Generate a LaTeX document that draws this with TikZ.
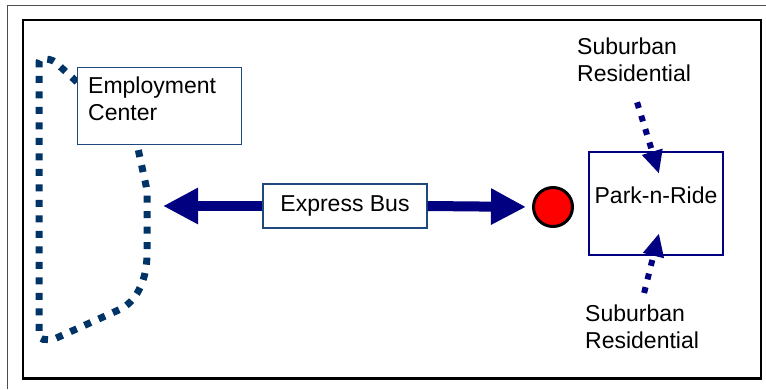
\documentclass[tikz,border=0pt]{standalone}
\usepackage{fontspec}
\setmainfont{Liberation Sans}
\usetikzlibrary{arrows.meta,calc}
\definecolor{routeblue}{HTML}{003366}
\definecolor{navy}{HTML}{000080}
\definecolor{boxedge}{HTML}{1F497D}
\begin{document}
\begin{tikzpicture}[x=1pt,y=-1pt,
  lbl/.style={font=\fontsize{23}{27}\selectfont, inner sep=0pt, align=left},
  textbox/.style={draw=boxedge, line width=1.2pt, fill=white,
    font=\fontsize{23}{27}\selectfont},
  routeline/.style={draw=routeblue, line width=7pt, line cap=butt,
    dash pattern=on 7pt off 8.5pt, rounded corners=4pt},
  busarrow/.style={draw=navy, line width=10pt,
    -{Triangle[length=35pt,width=34pt]}},
  feeder/.style={draw=navy, line width=6pt, dash pattern=on 6pt off 8pt,
    -{Triangle[length=23pt,width=20pt]}},
  stopdot/.style={circle, draw=black, fill=red, line width=3pt,
    minimum size=39pt, inner sep=0pt},
  pnrbox/.style={draw=navy, line width=2.5pt, fill=white,
    minimum width=134pt, minimum height=103pt, inner sep=0pt,
    text height=12pt, text depth=12pt, font=\fontsize{23}{27}\selectfont}]
\useasboundingbox (0,0) rectangle (766,389);
\fill[white] (0,0) rectangle (766,389);

% frames
\draw[line width=1pt, black!70] (766,5.5) -- (7.5,5.5) -- (7.5,389);
\draw[line width=2.5pt] (23,20) rectangle (761,378.3);

% service area outline around the employment center
\draw[routeline] (77,82) -- (53,60) -- (39,58) -- (39,339) -- (52,340)
  -- (123,308) .. controls (140,295) and (147,275) .. (147,250)
  -- (147,190) -- (137,144);

% employment center
\node[textbox, minimum width=164pt, minimum height=77pt, anchor=north west]
  (emp) at (77,67) {};
\node[lbl, anchor=north west] (emptext) at (88,77) {Employment\\Center};

% express bus line
\node[textbox, minimum width=164pt, minimum height=44pt] (bus) at (345,206)
  {Express Bus};
\node[stopdot] (stop) at (553,207) {};
\coordinate (buswest) at (163,206);
\draw[busarrow] (bus.west) -- (buswest);
\draw[busarrow, shorten >=6pt] (bus.east) -- (stop.west);

% park-n-ride and feeders
\node[pnrbox] (pnr) at (656,203.5) {Park-n-Ride};
\node[lbl, anchor=north west] (subtop) at (577,38) {Suburban\\Residential};
\node[lbl, anchor=north west] (subbot) at (585,305) {Suburban\\Residential};
\draw[feeder] ($(subtop.south)+(3,20)$) -- ($(pnr.north)+(3,23)$);
\draw[feeder] ($(subbot.north)+(2,-12)$) -- ($(pnr.south)+(3,-23)$);
\end{tikzpicture}
\end{document}
